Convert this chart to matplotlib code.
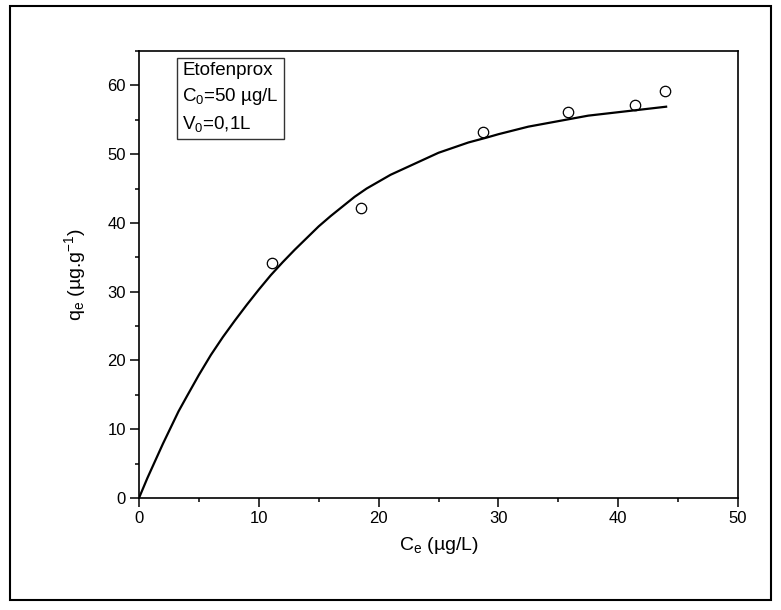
import numpy as np
import matplotlib
matplotlib.use("Agg")
import matplotlib.pyplot as plt
from matplotlib.patches import Rectangle
from matplotlib.ticker import MultipleLocator

plt.rcParams['font.family'] = ['Liberation Sans', 'DejaVu Sans']
plt.rcParams['mathtext.fontset'] = 'custom'
plt.rcParams['mathtext.rm'] = 'Liberation Sans'
plt.rcParams['mathtext.it'] = 'Liberation Sans'
plt.rcParams['mathtext.default'] = 'regular'

# measured points
ce = [11.1, 18.5, 28.7, 35.8, 41.4, 43.9]
qe = [34.2, 42.2, 53.2, 56.2, 57.2, 59.2]

# fitted curve
ce_fit = [0, 0.7, 2, 3.3, 4, 5, 6, 7, 8, 9, 10, 11, 12, 13, 14, 15, 16, 17, 18, 19, 20,
          21, 22.5, 24, 25, 26.5, 27.5, 29, 30, 32.5, 35, 37.5, 40, 42, 44]
qe_fit = [0, 2.9, 7.9, 12.6, 14.8, 17.9, 20.8, 23.4, 25.8, 28.1, 30.3, 32.4, 34.3, 36.1,
          37.8, 39.5, 41.0, 42.4, 43.8, 45.0, 46.0, 47.0, 48.2, 49.4, 50.2, 51.1, 51.7,
          52.4, 52.9, 54.0, 54.8, 55.6, 56.1, 56.5, 56.9]

W, H = 781, 610
fig = plt.figure(figsize=(W/100, H/100), dpi=100)
ax = fig.add_axes([139/W, 1-498/H, 599/W, 447/H])

ax.plot(ce_fit, qe_fit, color='black', lw=1.6, solid_joinstyle='round', zorder=2)
ax.plot(ce, qe, 'o', mfc='none', mec='black', ms=7.5, mew=0.9, zorder=3)

ax.set_xlim(0, 50)
ax.set_ylim(0, 65)
ax.xaxis.set_major_locator(MultipleLocator(10))
ax.xaxis.set_minor_locator(MultipleLocator(5))
ax.yaxis.set_minor_locator(MultipleLocator(5))
ax.set_yticks([0, 10, 20, 30, 40, 50, 60])
ax.tick_params(which='both', direction='out', top=False, right=False, labelsize=12, width=1.1)
ax.tick_params(which='major', length=6.5, pad=3)
ax.tick_params(which='minor', length=3)
for s in ax.spines.values():
    s.set_linewidth(1.2)

ax.set_xlabel('C$_e$ (µg/L)', fontsize=14, labelpad=6)
ax.set_ylabel('q$_e$ (µg.g$^{-1}$)', fontsize=14, labelpad=14)

ax.text(0.072, 0.975, 'Etofenprox\nC$_0$=50 µg/L\nV$_0$=0,1L', transform=ax.transAxes,
        fontsize=13.5, va='top', ha='left', linespacing=1.45,
        bbox=dict(boxstyle='square,pad=0.3', fc='white', ec='#333333', lw=1))

fig.patches.append(Rectangle((10/W, 1-600/H), 761/W, 594/H, transform=fig.transFigure,
                             fill=False, ec='black', lw=1.5))

fig.savefig('out.png', dpi=100)
